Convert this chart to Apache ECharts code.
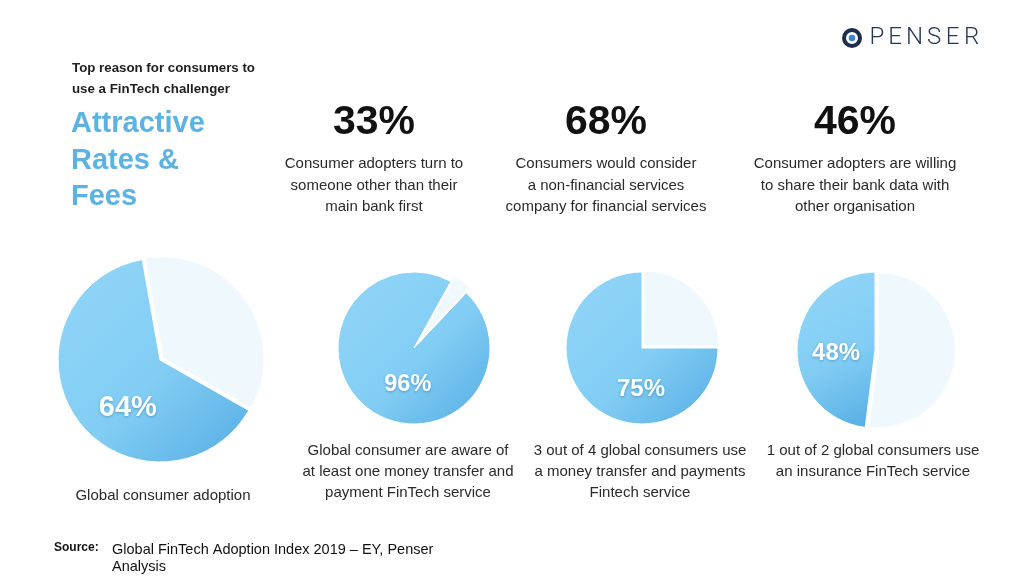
<!DOCTYPE html>
<html>
<head>
<meta charset="utf-8">
<script src="https://cdn.jsdelivr.net/npm/echarts@6/dist/echarts.min.js"></script>
<style>
html,body{margin:0;padding:0;background:#fff;}
#c{width:1024px;height:583px;}
</style>
</head>
<body>
<div id="c"></div>
<script>
// ---- data ----
const adoptionValues = [64, 96, 75, 48];
const restValues = [36, 4, 25, 52];
const pieCaptions = [
  ['Global consumer adoption'],
  ['Global consumer are aware of', 'at least one money transfer and', 'payment FinTech service'],
  ['3 out of 4 global consumers use', 'a money transfer and payments', 'Fintech service'],
  ['1 out of 2 global consumers use', 'an insurance FinTech service']
];
const headlineValues = ['33%', '68%', '46%'];
const headlineTexts = [
  ['Consumer adopters turn to', 'someone other than their', 'main bank first'],
  ['Consumers would consider', 'a non-financial services', 'company for financial services'],
  ['Consumer adopters are willing', 'to share their bank data with', 'other organisation']
];
const introText = ['Top reason for consumers to', 'use a FinTech challenger'];
const reasonText = ['Attractive', 'Rates &', 'Fees'];
const sourceText = ['Global FinTech Adoption Index 2019 \u2013 EY, Penser', 'Analysis'];
const logoText = 'PENSER';

// ---- layout (styles only) ----
const pieLayout = [
  {center: [160, 360], radius: 102, startAngle: 100, font: 29, shift: [12, 17], offset: 3},
  {center: [414, 348], radius: 76, startAngle: 61, font: 23.5, shift: [18, 3], offset: 7},
  {center: [642, 348], radius: 76, startAngle: 90, font: 24, shift: [28, 12], offset: 2},
  {center: [875, 350], radius: 78, startAngle: 90, font: 24, shift: [3, 6], offset: 3}
];
const captionPos = [[163, 496], [408, 451], [640, 451], [873, 451]];
const headlineX = [374, 606, 855];
const logoLetterX = [877, 895, 914.5, 934, 952.5, 971.5];

const blueGrad = new echarts.graphic.LinearGradient(0, 0, 1, 1, [
  {offset: 0, color: '#93d6f8'},
  {offset: 0.55, color: '#82cdf4'},
  {offset: 1, color: '#55ade3'}
]);
const FONT = '"Liberation Sans", Arial, sans-serif';

const series = adoptionValues.map((v, i) => {
  const L = pieLayout[i];
  return {
    type: 'pie',
    center: L.center,
    radius: L.radius,
    startAngle: L.startAngle,
    clockwise: true,
    silent: true,
    animation: false,
    selectedMode: 'single',
    selectedOffset: L.offset,
    labelLine: {show: false},
    labelLayout: function () { return {dx: L.shift[0], dy: L.shift[1]}; },
    data: [
      {value: restValues[i], name: 'rest', selected: true,
        itemStyle: {color: '#eff8fd', borderColor: '#ffffff', borderWidth: 2},
        label: {show: false}},
      {value: v, name: 'adopt',
        itemStyle: {color: blueGrad, borderColor: '#ffffff', borderWidth: 1},
        label: {show: true, position: 'inside', formatter: '{c}%',
          color: '#ffffff', fontFamily: FONT, fontWeight: 'bold',
          fontSize: L.font, textShadowColor: 'rgba(0,60,110,0.35)', textShadowBlur: 3,
          textShadowOffsetY: 1}}
    ]
  };
});

const graphics = [];
function addLines(lines, x, y, lh, opts) {
  lines.forEach((t, k) => {
    graphics.push({type: 'text', x: x, y: y + k * lh, silent: true,
      style: Object.assign({text: t, fontFamily: FONT, verticalAlign: 'middle'}, opts)});
  });
}
addLines(introText, 72, 68, 21, {fontSize: 13.3, fontWeight: 'bold', fill: '#1e1e1e', align: 'left'});
addLines(reasonText, 71, 124, 36.5, {fontSize: 29, fontWeight: 'bold', fill: '#5cb2e2', align: 'left'});
headlineValues.forEach((h, i) => {
  addLines([h], headlineX[i], 123, 0, {fontSize: 41, fontWeight: 'bold', fill: '#111111', align: 'center'});
  addLines(headlineTexts[i], headlineX[i], 164, 21.5, {fontSize: 15, fill: '#2a2a2a', align: 'center'});
});
pieCaptions.forEach((c, i) => {
  addLines(c, captionPos[i][0], captionPos[i][1], 21, {fontSize: 15, fill: '#2a2a2a', align: 'center'});
});
addLines(['Source:'], 54, 548, 0, {fontSize: 12, fontWeight: 'bold', fill: '#111', align: 'left'});
addLines(sourceText, 112, 550, 17, {fontSize: 14.5, fill: '#111', align: 'left'});
// logo
graphics.push({type: 'circle', silent: true, shape: {cx: 852, cy: 38, r: 8},
  style: {fill: 'none', stroke: '#1f2d4d', lineWidth: 4}});
graphics.push({type: 'circle', silent: true, shape: {cx: 852, cy: 38, r: 3.3},
  style: {fill: '#3a86c8'}});
logoText.split('').forEach((ch, k) => {
  addLines([ch], logoLetterX[k], 38, 0, {fontSize: 24, fontFamily: 'Roboto, sans-serif', fontWeight: 300, fill: '#2a3656', align: 'center'});
});

const chart = echarts.init(document.getElementById('c'), null, {renderer: 'canvas'});
chart.setOption({
  backgroundColor: '#ffffff',
  animation: false,
  series: series,
  graphic: graphics
});
</script>
</body>
</html>
